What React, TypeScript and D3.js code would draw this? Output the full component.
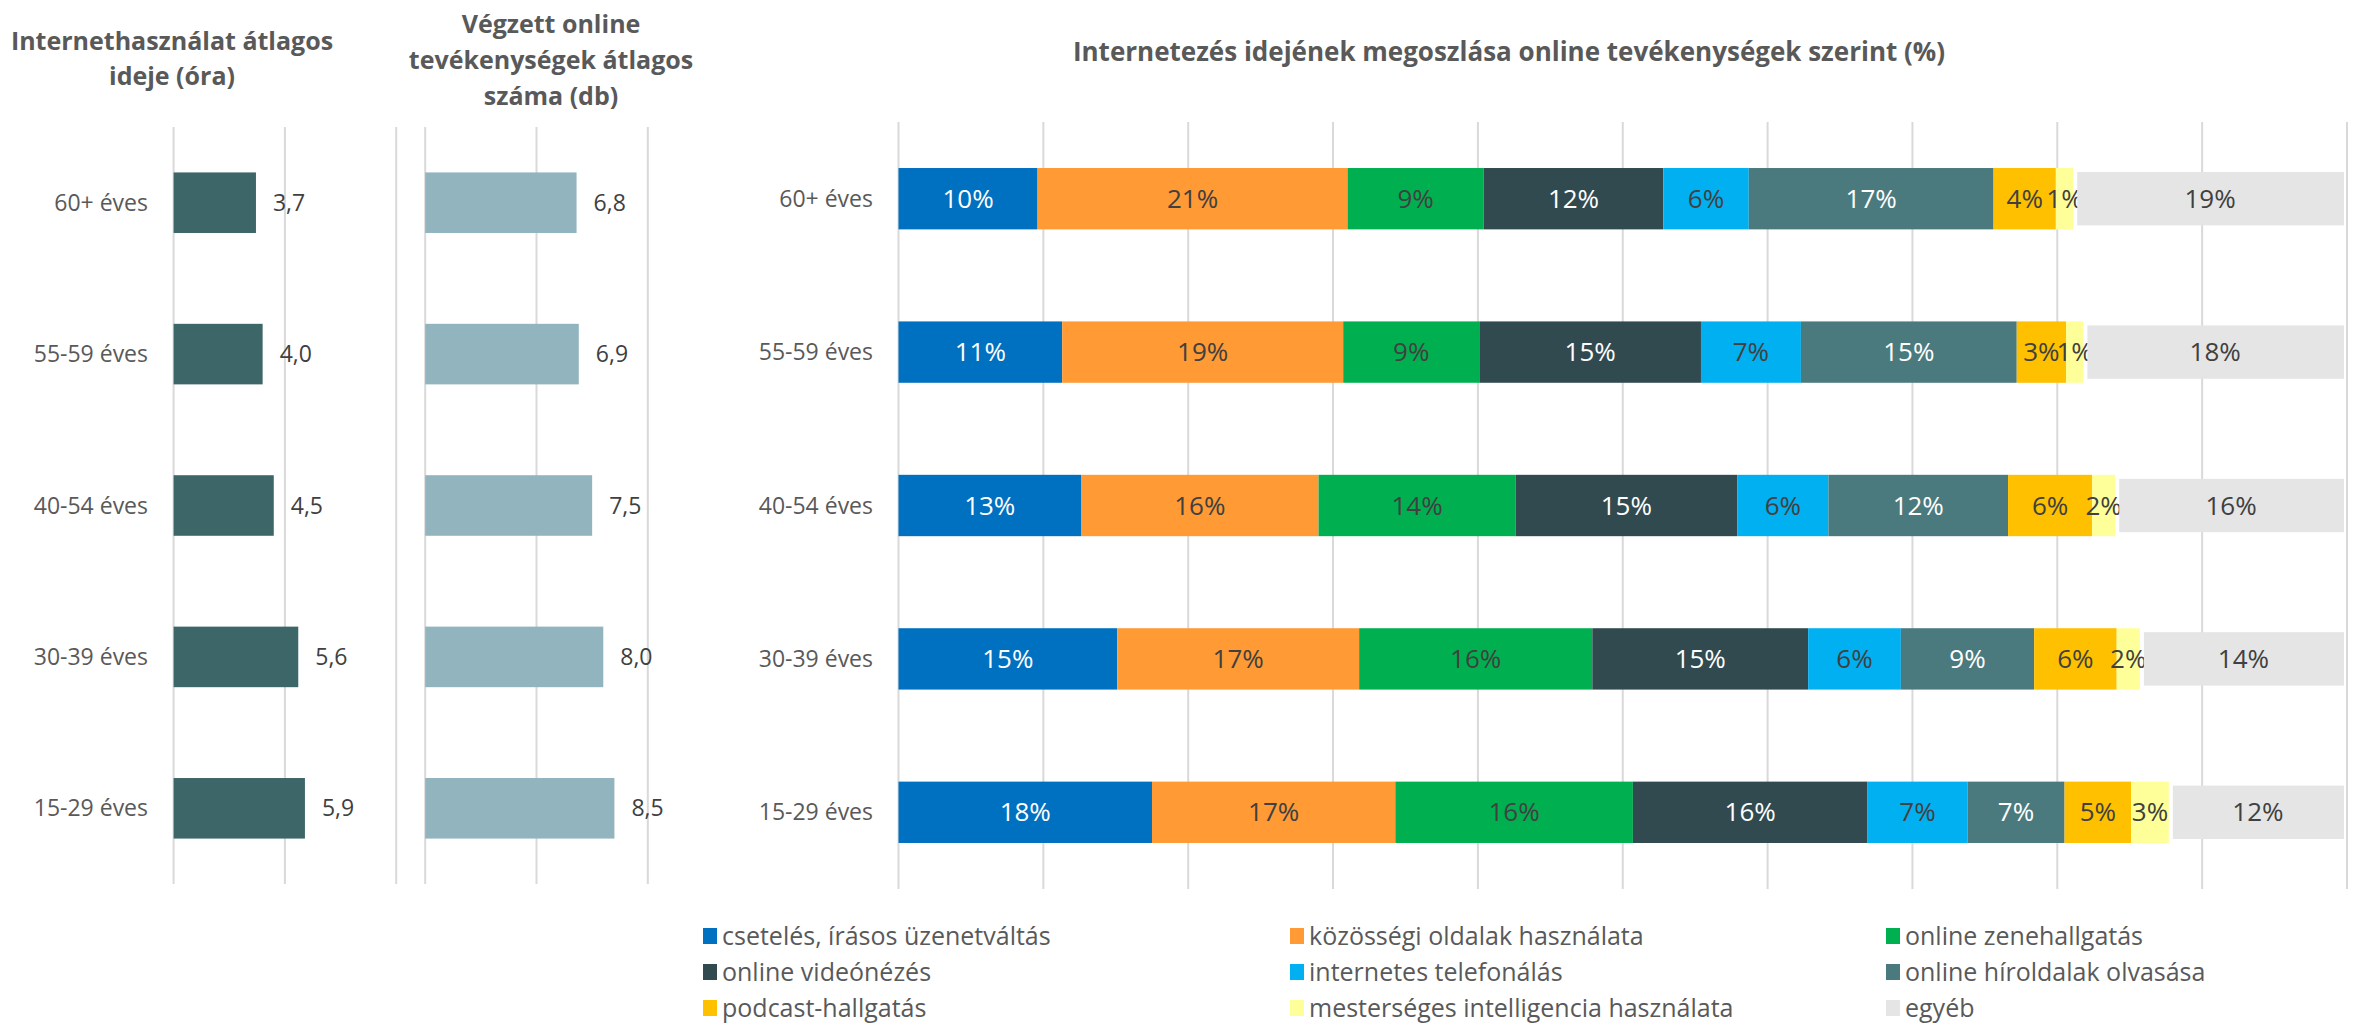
import React from "react";
import * as d3 from "d3";

const ageGroups = ["60+ éves", "55-59 éves", "40-54 éves", "30-39 éves", "15-29 éves"];
const avgHours = [3.7, 4.0, 4.5, 5.6, 5.9];
const avgActivities = [6.8, 6.9, 7.5, 8.0, 8.5];

const activities = [
  "csetelés, írásos üzenetváltás",
  "közösségi oldalak használata",
  "online zenehallgatás",
  "online videónézés",
  "internetes telefonálás",
  "online híroldalak olvasása",
  "podcast-hallgatás",
  "mesterséges intelligencia használata",
  "egyéb",
];
const activityColors = ["#0070C0", "#FF9A35", "#00B050", "#304A50", "#00B0F0", "#4A7A7E", "#FFC000", "#FFFF99", "#E5E5E5"];
const labelColors = ["#FFFFFF", "#404040", "#404040", "#FFFFFF", "#404040", "#FFFFFF", "#404040", "#404040", "#404040"];

// share of internet time by activity (%), one array per age group
const share60plus = [9.6, 21.4, 9.4, 12.4, 5.9, 16.9, 4.3, 1.2, 18.9];
const share55to59 = [11.3, 19.4, 9.4, 15.3, 6.9, 14.9, 3.4, 1.2, 18.2];
const share40to54 = [12.6, 16.4, 13.6, 15.3, 6.3, 12.4, 5.8, 1.6, 16.0];
const share30to39 = [15.1, 16.7, 16.1, 14.9, 6.4, 9.2, 5.7, 1.6, 14.3];
const share15to29 = [17.5, 16.8, 16.4, 16.2, 6.9, 6.7, 4.6, 2.6, 12.3];
const shares = [share60plus, share55to59, share40to54, share30to39, share15to29];

const smallTicks = [0, 5, 10];
const pctTicks = d3.range(0, 101, 10);

const FONT = "'Open Sans', 'Noto Sans', sans-serif";
const GRID = "#D9D9D9";
const TXT = "#595959";
const VAL = "#404040";

export default function App() {
  const W = 2359;
  const H = 1027;

  const yLeft = d3.scaleBand<string>().domain(ageGroups).range([127, 884]).paddingInner(0.6).paddingOuter(0.3);
  const yRight = d3.scaleBand<string>().domain(ageGroups).range([122, 889]).paddingInner(0.6).paddingOuter(0.3);

  const x1 = d3.scaleLinear().domain([0, 10]).range([173.6, 396.2]);
  const x2 = d3.scaleLinear().domain([0, 10]).range([425.2, 647.8]);
  const x3 = d3.scaleLinear().domain([0, 100]).range([898.5, 2347]);

  const fmt = (v: number) => v.toFixed(1).replace(".", ",");

  const stacked = shares.map((row) => {
    let acc = 0;
    return row.map((v) => {
      const s = acc;
      acc += v;
      return [s, acc];
    });
  });

  const legendCols = [703, 1290, 1886];
  const legendRows = [936, 972, 1008];

  return (
    <svg width={W} height={H} style={{ display: "block", position: "absolute", left: 0, top: 0, background: "#fff" }} fontFamily={FONT}>
      <rect x={0} y={0} width={W} height={H} fill="#fff" />
      {/* titles */}
      <g fill={TXT} fontWeight={700} textAnchor="middle">
        <g fontSize={25}>
          <text x={172} y={50}>Internethasználat átlagos</text>
          <text x={172} y={85}>ideje (óra)</text>
          <text x={551} y={33}>Végzett online</text>
          <text x={551} y={69}>tevékenységek átlagos</text>
          <text x={551} y={105}>száma (db)</text>
        </g>
        <text x={1509} y={61} fontSize={26}>Internetezés idejének megoszlása online tevékenységek szerint (%)</text>
      </g>

      {/* left panel */}
      <g>
        {smallTicks.map((t) => (
          <line key={"g1" + t} x1={x1(t)} x2={x1(t)} y1={127} y2={884} stroke={GRID} strokeWidth={2} />
        ))}
        {ageGroups.map((g, i) => {
          const y = yLeft(g)!;
          const bw = yLeft.bandwidth();
          return (
            <g key={"l" + g}>
              <text x={148} y={y + bw / 2} dy="0.35em" textAnchor="end" fontSize={23} fill={TXT}>{g}</text>
              <rect x={x1(0)} y={y} width={x1(avgHours[i]) - x1(0)} height={bw} fill="#3D6668" />
              <text x={x1(avgHours[i]) + 17} y={y + bw / 2} dy="0.35em" fontSize={23} fill={VAL}>{fmt(avgHours[i])}</text>
            </g>
          );
        })}
      </g>

      {/* middle panel */}
      <g>
        {smallTicks.map((t) => (
          <line key={"g2" + t} x1={x2(t)} x2={x2(t)} y1={127} y2={884} stroke={GRID} strokeWidth={2} />
        ))}
        {ageGroups.map((g, i) => {
          const y = yLeft(g)!;
          const bw = yLeft.bandwidth();
          return (
            <g key={"m" + g}>
              <rect x={x2(0)} y={y} width={x2(avgActivities[i]) - x2(0)} height={bw} fill="#92B4BE" />
              <text x={x2(avgActivities[i]) + 17} y={y + bw / 2} dy="0.35em" fontSize={23} fill={VAL}>{fmt(avgActivities[i])}</text>
            </g>
          );
        })}
      </g>

      {/* right panel */}
      <g>
        {pctTicks.map((t) => (
          <line key={"g3" + t} x1={x3(t)} x2={x3(t)} y1={122} y2={889} stroke={GRID} strokeWidth={2} />
        ))}
        {ageGroups.map((g, i) => {
          const y = yRight(g)!;
          const bw = yRight.bandwidth();
          return (
            <g key={"r" + g}>
              <text x={873} y={y + bw / 2} dy="0.35em" textAnchor="end" fontSize={23} fill={TXT}>{g}</text>
              {stacked[i].map(([s, e], k) => {
                const last = k === activities.length - 1;
                const xs = x3(s);
                const xe = x3(e);
                return (
                  <g key={k}>
                    {last ? (
                      <rect x={xs + 4} y={y + 4} width={Math.max(0, xe - xs - 7)} height={bw - 8} fill={activityColors[k]} />
                    ) : (
                      <rect x={xs} y={y} width={xe - xs} height={bw} fill={activityColors[k]} />
                    )}
                    <text x={(xs + xe) / 2} y={y + bw / 2} dy="0.35em" textAnchor="middle" fontSize={26} fill={labelColors[k]}>
                      {Math.round(shares[i][k]) + "%"}
                    </text>
                  </g>
                );
              })}
            </g>
          );
        })}
      </g>

      {/* legend */}
      <g fontSize={25} fill={TXT}>
        {activities.map((a, k) => {
          const cx = legendCols[k % 3];
          const cy = legendRows[Math.floor(k / 3)];
          return (
            <g key={"lg" + k}>
              <rect x={cx} y={cy - 8} width={14} height={16} fill={activityColors[k]} />
              <text x={cx + 19} y={cy} dy="0.35em">{a}</text>
            </g>
          );
        })}
      </g>
    </svg>
  );
}
